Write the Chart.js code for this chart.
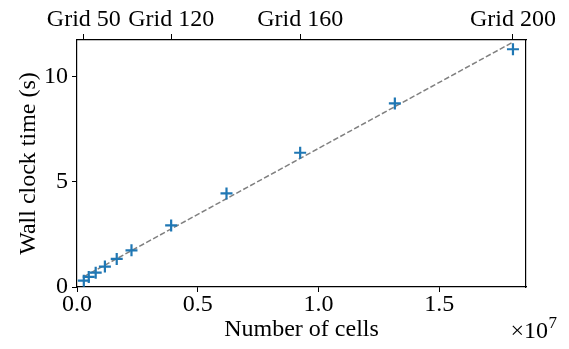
<!DOCTYPE html>
<html><head><meta charset="utf-8">
<script src="https://cdn.jsdelivr.net/npm/chart.js@4.4.0/dist/chart.umd.min.js"></script>
<style>
html,body{margin:0;padding:0;background:#fff;} canvas{display:block;}
</style>
</head><body>
<canvas id="c" width="569" height="349"></canvas>
<script>
// ---- data ----
const gridSizes = [50, 60, 70, 80, 90, 100, 120, 140, 160, 180, 200];
const cellCounts = [2.82e5, 4.87e5, 7.74e5, 1.155e6, 1.645e6, 2.256e6, 3.898e6, 6.19e6, 9.24e6, 1.316e7, 1.805e7];
const wallTimes = [0.30, 0.48, 0.68, 0.97, 1.33, 1.74, 2.92, 4.44, 6.37, 8.71, 11.28];
const fitX = [2.82e5, 1.805e7];
const fitY = [0.49, 11.62];
const topGridLabels = [50, 120, 160, 200];
const topGridCells = [2.82e5, 3.898e6, 9.24e6, 1.805e7];
const xTickValues = [0, 0.5e7, 1.0e7, 1.5e7];
const yTickValues = [0, 5, 10];
const xMax = 1.859e7;
const yMax = 11.72;

const FONT = "'Liberation Serif', 'DejaVu Serif', serif";
const BLUE = '#1f77b4';

const offsetTextPlugin = {
  id: 'offsetText',
  afterDraw(chart) {
    const ctx = chart.ctx;
    const right = chart.width - 12;
    ctx.save();
    ctx.fillStyle = '#000';
    ctx.textBaseline = 'alphabetic';
    ctx.textAlign = 'right';
    ctx.font = '17px ' + FONT;
    const w7 = ctx.measureText('7').width;
    ctx.fillText('7', right, 328);
    ctx.font = '24px ' + FONT;
    ctx.fillText('\u00d710', right - w7 - 0.5, 338);
    ctx.restore();
  }
};

const tickGrid = (len) => ({display: true, drawOnChartArea: false, drawTicks: true, tickLength: len, color: '#000', lineWidth: 1});
const border = {display: true, color: '#000', width: 1.2};

function build() {
  new Chart(document.getElementById('c'), {
    type: 'scatter',
    data: {
      datasets: [
        {
          label: 'timings',
          data: cellCounts.map((c, i) => ({x: c, y: wallTimes[i]})),
          pointStyle: 'cross',
          pointRadius: 6,
          pointHoverRadius: 6,
          borderColor: BLUE,
          backgroundColor: BLUE,
          pointBorderWidth: 2.2,
          borderWidth: 2.2,
          showLine: false,
          xAxisID: 'x',
          yAxisID: 'y'
        },
        {
          label: 'fit',
          type: 'line',
          data: fitX.map((c, i) => ({x: c, y: fitY[i]})),
          borderColor: '#808080',
          borderWidth: 1.5,
          borderDash: [5.5, 2.4],
          pointRadius: 0,
          fill: false,
          tension: 0,
          xAxisID: 'x',
          yAxisID: 'y'
        }
      ]
    },
    options: {
      responsive: false,
      animation: false,
      devicePixelRatio: 1,
      layout: {padding: 0},
      plugins: {legend: {display: false}, tooltip: {enabled: false}},
      scales: {
        x: {
          type: 'linear', position: 'bottom', min: 0, max: xMax,
          afterBuildTicks: (s) => { s.ticks = xTickValues.map(v => ({value: v})); },
          afterFit: (s) => { s.height = 62; },
          ticks: {
            color: '#000', font: {family: FONT, size: 24, lineHeight: 1}, padding: 1,
            maxRotation: 0, autoSkip: false,
            callback: (v) => (v / 1e7).toFixed(1)
          },
          grid: tickGrid(5),
          border: border,
          title: {display: true, text: 'Number of cells', color: '#000', font: {family: FONT, size: 24}, padding: {top: 0, bottom: 5}}
        },
        x2: {
          type: 'linear', position: 'top', min: 0, max: xMax,
          afterBuildTicks: (s) => { s.ticks = topGridCells.map(v => ({value: v})); },
          afterFit: (s) => { s.height = 40; },
          ticks: {
            color: '#000', font: {family: FONT, size: 24, lineHeight: 1}, padding: 2,
            maxRotation: 0, autoSkip: false,
            callback: (v, i) => 'Grid ' + topGridLabels[i]
          },
          grid: tickGrid(6),
          border: border
        },
        y: {
          type: 'linear', position: 'left', min: 0, max: yMax,
          afterBuildTicks: (s) => { s.ticks = yTickValues.map(v => ({value: v})); },
          afterFit: (s) => { s.width = 77; },
          ticks: {color: '#000', font: {family: FONT, size: 24, lineHeight: 1}, padding: 4, callback: (v) => String(v)},
          grid: tickGrid(5),
          border: border,
          title: {display: true, text: 'Wall clock time (s)', color: '#000', font: {family: FONT, size: 24}, padding: {top: 14, bottom: 0}}
        },
        y2: {
          type: 'linear', position: 'right', min: 0, max: yMax,
          afterFit: (s) => { s.width = 43; },
          ticks: {display: false},
          grid: {display: false},
          border: border
        }
      }
    },
    plugins: [offsetTextPlugin]
  });
}

const loads = [document.fonts.load("24px 'Liberation Serif'"), document.fonts.load("24px 'DejaVu Serif'")];
Promise.all(loads).then(() => document.fonts.ready).then(build, build);
</script>
</body></html>
